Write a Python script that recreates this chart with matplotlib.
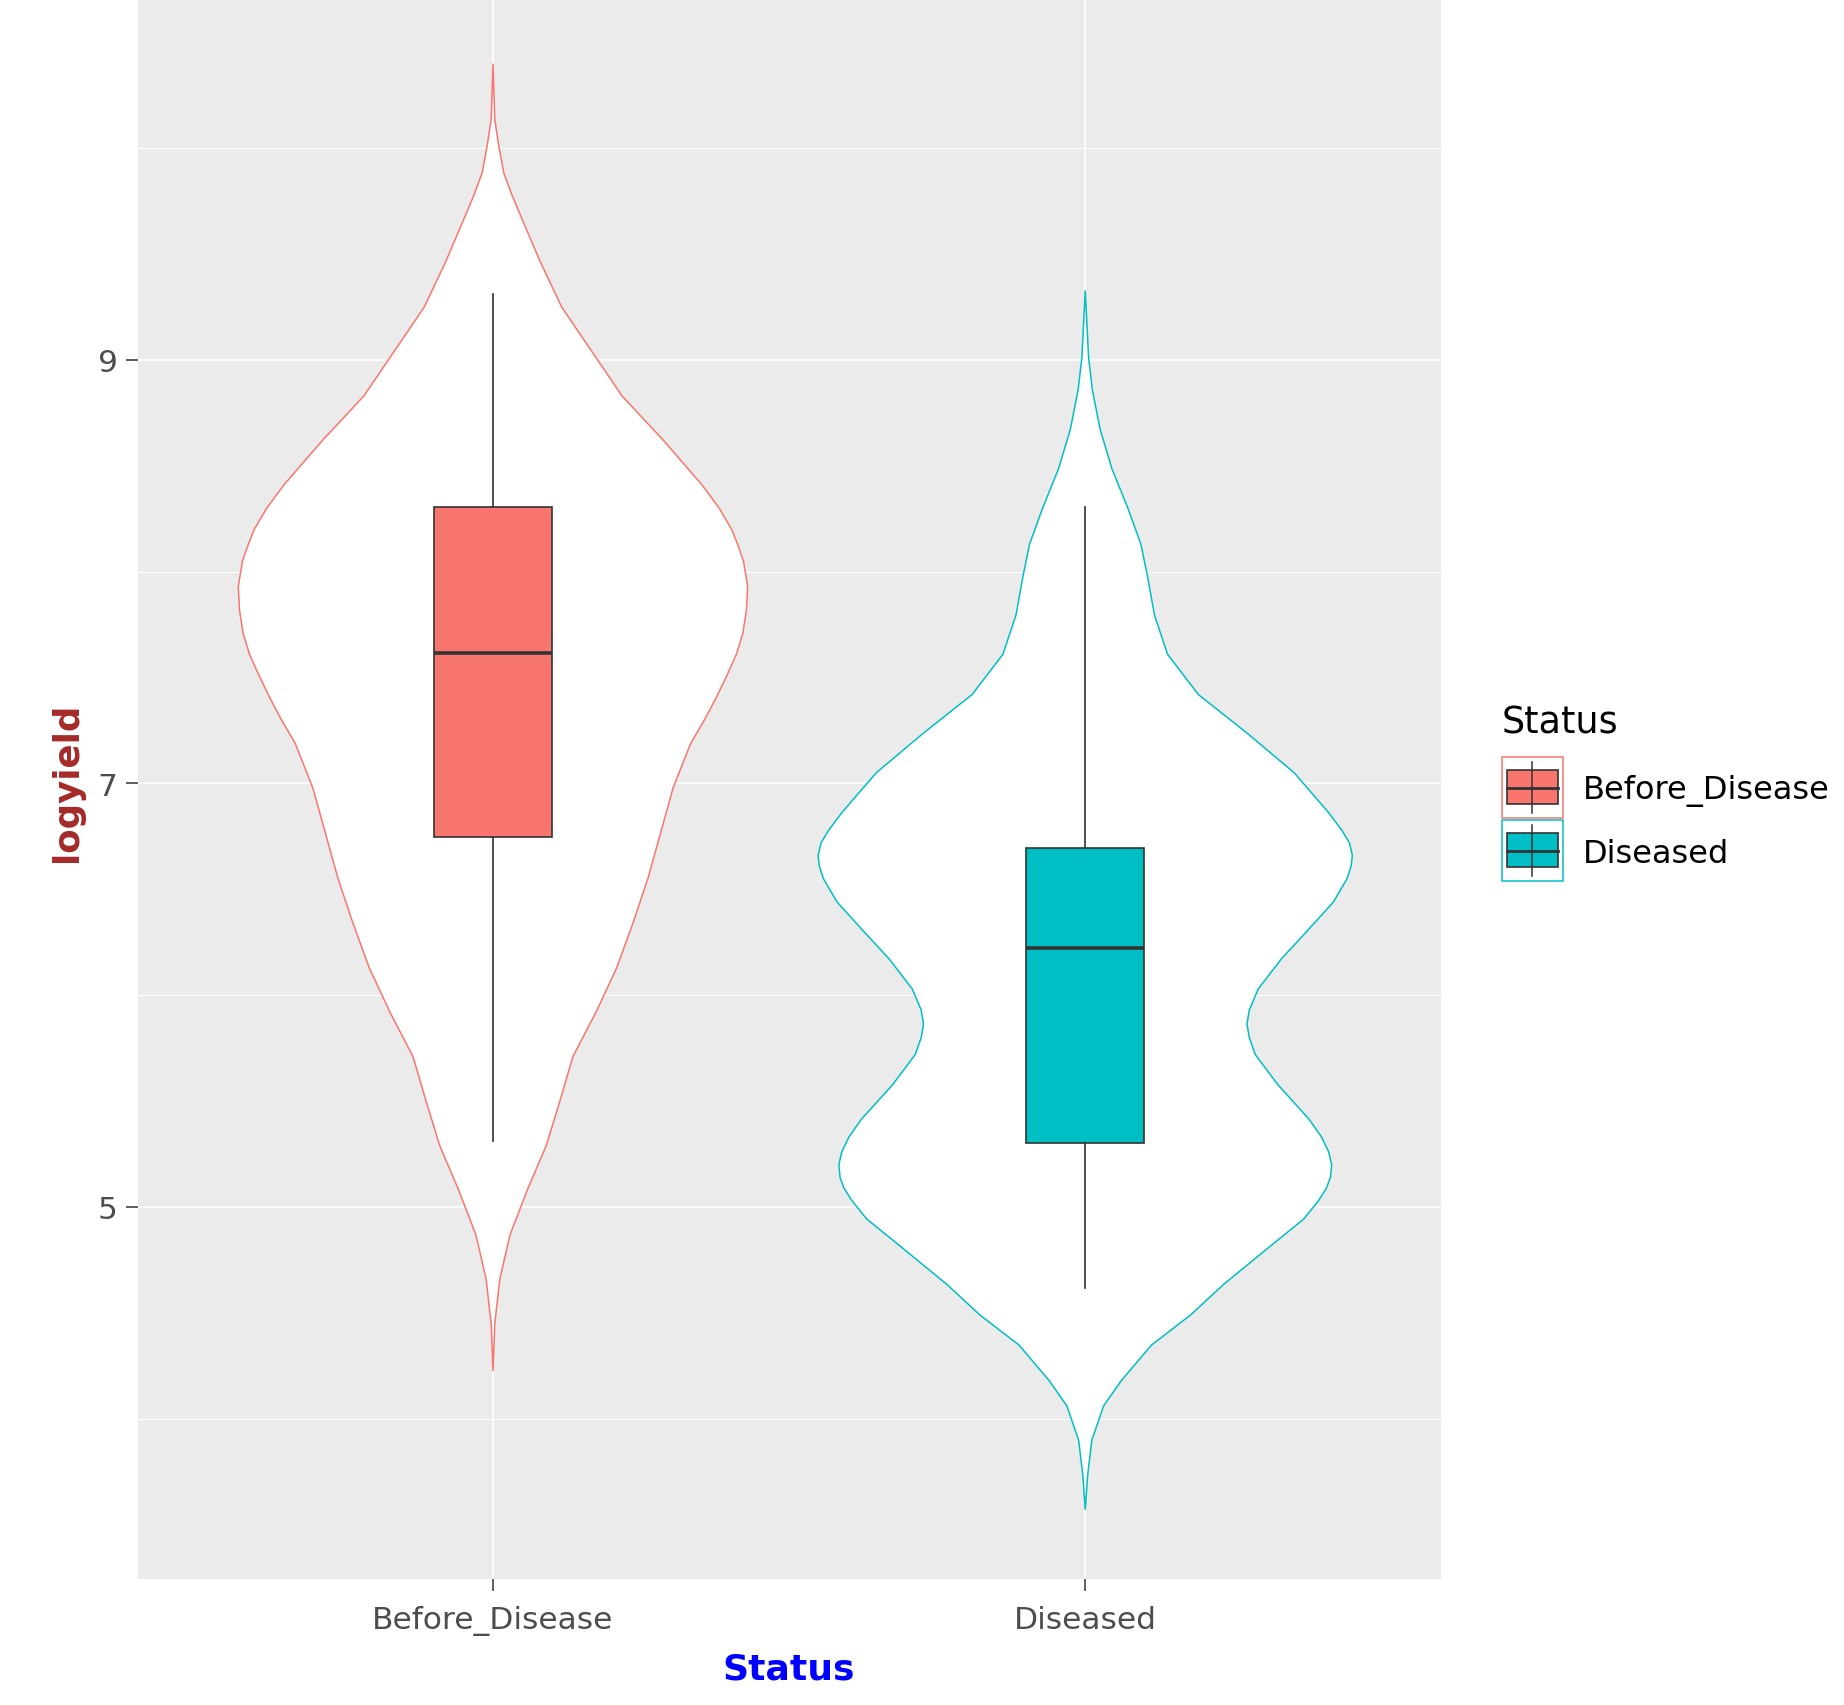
import numpy as np
import matplotlib.pyplot as plt
from matplotlib.patches import Rectangle

status = ['Before_Disease', 'Diseased']
fill_colors = ['#F8766D', '#00BFC4']

# violin outlines: logyield value and half width (x units) along each violin
before_y = [4.225, 4.447, 4.66, 4.87, 5.08, 5.29, 5.50, 5.71, 5.92, 6.13, 6.345,
            6.555, 6.766, 6.978, 7.19, 7.30, 7.40, 7.51, 7.61, 7.71, 7.82, 7.93,
            8.05, 8.13, 8.20, 8.30, 8.41, 8.62, 8.83, 9.04, 9.25, 9.463, 9.673,
            9.78, 9.883, 10.01, 10.137, 10.40]
before_w = [0.0, 0.003, 0.0116, 0.029, 0.058, 0.090, 0.113, 0.135, 0.174, 0.209, 0.237,
            0.262, 0.283, 0.304, 0.334, 0.357, 0.376, 0.395, 0.411, 0.422, 0.428, 0.430,
            0.423, 0.413, 0.403, 0.382, 0.353, 0.288, 0.218, 0.167, 0.116, 0.080, 0.048,
            0.032, 0.0183, 0.0099, 0.003, 0.0]

diseased_y = [3.57, 3.73, 3.897, 4.06, 4.18, 4.348, 4.49, 4.635, 4.80, 4.943, 5.03,
              5.087, 5.14, 5.20, 5.26, 5.33, 5.414, 5.578, 5.72, 5.80, 5.864, 5.93,
              6.029, 6.171, 6.295, 6.44, 6.55, 6.61, 6.66, 6.72, 6.78, 6.862, 7.05,
              7.236, 7.42, 7.61, 7.795, 7.98, 8.13, 8.30, 8.487, 8.674, 8.86, 9.01, 9.328]
diseased_w = [0.0, 0.004, 0.011, 0.031, 0.061, 0.112, 0.178, 0.234, 0.306, 0.369, 0.394,
              0.407, 0.414, 0.416, 0.411, 0.399, 0.378, 0.325, 0.287, 0.277, 0.273, 0.277,
              0.292, 0.331, 0.372, 0.419, 0.442, 0.449, 0.451, 0.446, 0.433, 0.411, 0.353,
              0.274, 0.191, 0.139, 0.117, 0.105, 0.094, 0.072, 0.045, 0.025, 0.012, 0.0057, 0.0]

# boxplot summaries
q1 = [6.745, 5.30]
med = [7.617, 6.222]
q3 = [8.306, 6.695]
whislo = [5.31, 4.617]
whishi = [9.31, 8.305]

W, H = 1844, 1706
fig = plt.figure(figsize=(W / 100, H / 100), dpi=100)
ax = fig.add_axes([137.6 / W, 1 - 1579.5 / H, (1440.6 - 137.6) / W, 1579.5 / H])
ax.set_facecolor('#EBEBEB')
for s in ax.spines.values():
    s.set_visible(False)

ax.set_xlim(0.4, 2.6)
ax.set_ylim(3.245, 10.705)
ax.set_xticks([1, 2])
ax.set_xticklabels(status)
ax.set_yticks([5, 7, 9])
ax.set_yticks([4, 6, 8, 10], minor=True)
ax.grid(which='major', color='white', lw=1.2)
ax.grid(which='minor', color='white', lw=0.7)
ax.set_axisbelow(True)
ax.tick_params(which='major', length=8.3, width=1.1, color='#333333',
               labelcolor='#4D4D4D', labelsize=22.5, pad=6)
ax.tick_params(axis='x', pad=11)
ax.tick_params(which='minor', length=0)

ax.set_xlabel('Status', color='blue', fontweight='bold', fontsize=26, labelpad=12)
ax.set_ylabel('logyield', color='brown', fontweight='bold', fontsize=25.6)
ax.yaxis.set_label_coords(-0.041, 0.505)

# violins
profiles = [(before_y, before_w), (diseased_y, diseased_w)]
for i, (yy, ww) in enumerate(profiles):
    pos = i + 1
    yy = np.array(yy)
    ww = np.array(ww)
    xs = np.concatenate([pos - ww, (pos + ww)[::-1]])
    ys = np.concatenate([yy, yy[::-1]])
    ax.fill(xs, ys, facecolor='white', edgecolor=fill_colors[i], lw=1.1, zorder=2)

# boxplots
stats = [dict(q1=q1[i], med=med[i], q3=q3[i], whislo=whislo[i], whishi=whishi[i],
              label=status[i]) for i in range(2)]
bp = ax.bxp(stats, positions=[1, 2], widths=0.2, patch_artist=True,
            showcaps=False, showfliers=False, manage_ticks=False,
            boxprops=dict(edgecolor='#333333', lw=1.2),
            whiskerprops=dict(color='#333333', lw=1.2),
            medianprops=dict(color='#333333', lw=2.6), zorder=3)
for patch, c in zip(bp['boxes'], fill_colors):
    patch.set_facecolor(c)

# legend drawn in figure pixel space
lax = fig.add_axes([0, 0, 1, 1], zorder=5)
lax.set_xlim(0, W)
lax.set_ylim(H, 0)
lax.axis('off')
lax.text(1502, 733, 'Status', fontsize=26.3, color='black', va='baseline', ha='left')
for i, name in enumerate(status):
    top = 758 + i * 63.3
    lax.add_patch(Rectangle((1502, top), 61, 61, facecolor='white',
                            edgecolor=fill_colors[i], lw=1.1))
    cx = 1532.2
    lax.plot([cx, cx], [top + 5, top + 56], color='#333333', lw=1.1)
    lax.add_patch(Rectangle((1507, top + 13), 51, 34, facecolor=fill_colors[i],
                            edgecolor='#333333', lw=1.2))
    lax.plot([1507, 1558], [top + 30.5, top + 30.5], color='#333333', lw=2.0)
    lax.text(1583, top + 33, name, fontsize=23, color='black', va='center', ha='left')

fig.savefig('out.png', dpi=100)
